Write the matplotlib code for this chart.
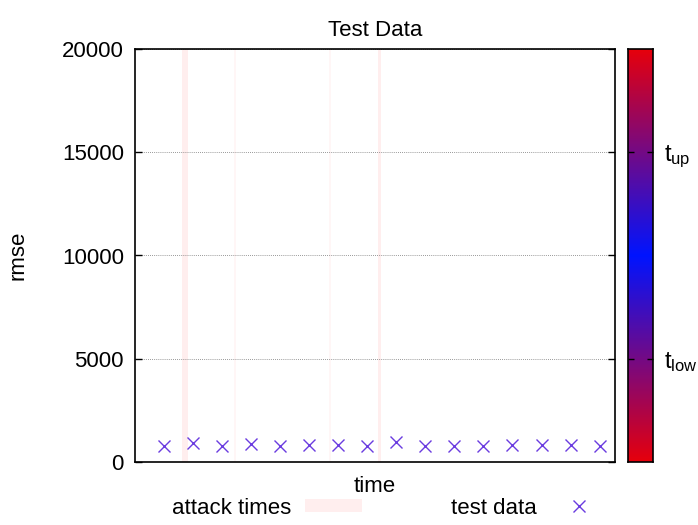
import numpy as np
import matplotlib
matplotlib.use('Agg')
import matplotlib.pyplot as plt
from matplotlib.colors import LinearSegmentedColormap

plt.rcParams['font.family'] = ['Liberation Sans', 'DejaVu Sans']
plt.rcParams['mathtext.fontset'] = 'custom'
plt.rcParams['mathtext.rm'] = 'Liberation Sans'
plt.rcParams['mathtext.it'] = 'Liberation Sans'

# rmse per time step
t = np.arange(1, 17)
rmse = [775, 935, 790, 855, 790, 840, 840, 760, 955,
        760, 775, 760, 810, 810, 810, 775]

# attack intervals (start, end)
attack_start = [1.62, 3.42, 6.68, 8.36]
attack_end = [1.83, 3.48, 6.74, 8.47]

# thresholds shown on the colour bar
t_low = 5000
t_up = 15000

fs = 16
fig = plt.figure(figsize=(6.98, 5.25), dpi=100)
ax = fig.add_axes([135 / 698, 63 / 525, 480 / 698, 413 / 525])

for s, e in zip(attack_start, attack_end):
    # very short intervals come out fainter
    c = '#ffeeee' if e - s > 0.08 else '#fff6f6'
    ax.axvspan(s, e, color=c, lw=0, zorder=0)
ax.plot(t, rmse, ls='none', marker='x', ms=8, mew=1.0, color='#6a3ce0', zorder=3)

ax.set_xlim(0, 16.53)
ax.set_ylim(0, 20000)
ax.set_xticks([])
ax.set_yticks([0, 5000, 10000, 15000, 20000])
ax.tick_params(axis='y', direction='in', length=5, width=1, right=True, labelsize=fs, pad=8)
ax.yaxis.grid(True, ls=(0, (1, 1.5)), color='#777777', lw=0.6)
ax.set_axisbelow(True)
for sp in ax.spines.values():
    sp.set_linewidth(1.2)

ax.set_title('Test Data', fontsize=fs, pad=9)
fig.text(18 / 698, 1 - 255 / 525, 'rmse', rotation=90, fontsize=fs, ha='center', va='center')
fig.text(375 / 698, 1 - 486 / 525, 'time', fontsize=fs, ha='center', va='center')

# colour bar: red at the edges, blue in the middle
cmap = LinearSegmentedColormap.from_list('rbr', ['#e6000c', '#0014ff', '#e6000c'])
cax = fig.add_axes([628 / 698, 63 / 525, 25 / 698, 413 / 525])
grad = np.linspace(0, 20000, 256).reshape(-1, 1)
cax.imshow(grad, aspect='auto', cmap=cmap, origin='lower', extent=[0, 1, 0, 20000])
cax.set_xticks([])
cax.set_ylim(0, 20000)
cax.yaxis.tick_right()
cax.set_yticks([t_low, t_up])
cax.set_yticklabels([r'$\mathrm{t_{low}}$', r'$\mathrm{t_{up}}$'])
cax.tick_params(axis='y', direction='in', length=4, width=1, left=True, labelsize=fs + 1, pad=8)
for sp in cax.spines.values():
    sp.set_linewidth(1.2)

# legend below the axis
h_span = plt.Rectangle((0, 0), 1, 1, color='#ffeeee', lw=0)
h_pts, = ax.plot([], [], ls='none', marker='x', ms=8, mew=1.0, color='#6a3ce0')
fig.legend([h_span, h_pts], ['attack times', 'test data'], ncol=2, markerfirst=False,
           frameon=False, fontsize=fs, loc='center', bbox_to_anchor=(390 / 698, 1 - 508 / 525),
           handlelength=2.6, handleheight=0.55, handletextpad=0.6, columnspacing=4.0)

fig.savefig('out.png', dpi=100)
